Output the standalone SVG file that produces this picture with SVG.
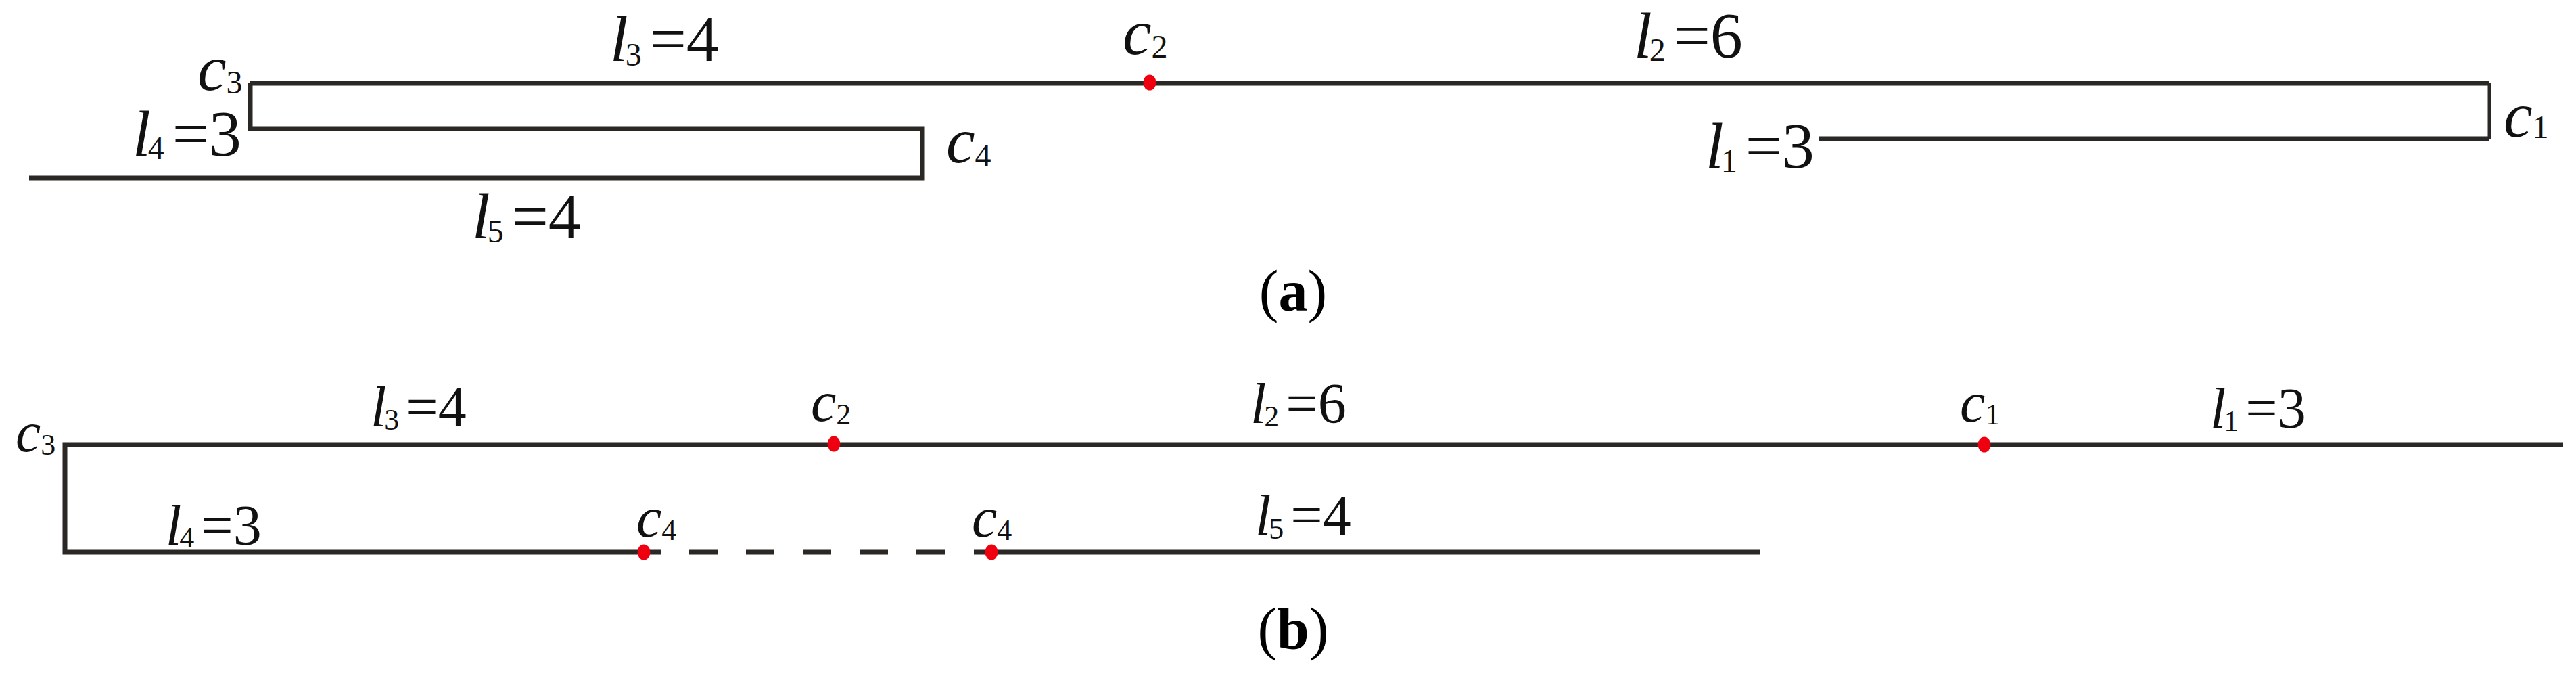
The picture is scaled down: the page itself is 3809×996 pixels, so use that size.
<svg xmlns="http://www.w3.org/2000/svg" width="3809" height="996" viewBox="0 0 3809 996">
<style>
.ln{fill:none;stroke:#2b2725;stroke-width:7;stroke-linecap:butt;stroke-linejoin:miter}
.thin{stroke-width:5}
.dash{stroke-dasharray:42 42}
.dot{fill:#ee0010}
text{font-family:"Liberation Serif","Times New Roman","DejaVu Serif",serif}
.ta{font-size:96px;fill:#111}
.tb{font-size:84px;fill:#111}
.i{font-style:italic}
.sa{font-size:48px}
.sb{font-size:44px}
.cap{font-size:86px;fill:#000}
</style>
<rect width="3809" height="996" fill="#fff"/>

<g id="connectors">
  <!-- (a) -->
  <path class="ln" d="M2690 205 H3681 M370 123 H3681 M370 123 V190 H1364 V263 H43"/>
  <line class="ln thin" x1="3681" y1="123" x2="3681" y2="205"/>
  <!-- (b) -->
  <path class="ln" d="M3790 657 H96 V816 H977"/>
  <line class="ln dash" x1="1019" y1="816" x2="1397" y2="816"/>
  <line class="ln" x1="1440" y1="816" x2="2602" y2="816"/>
</g>

<g id="points">
  <ellipse class="dot" cx="1700" cy="122" rx="9.5" ry="11.5"/>
  <ellipse class="dot" cx="1233" cy="656" rx="9.5" ry="11.5"/>
  <ellipse class="dot" cx="2934" cy="657" rx="9.5" ry="11.5"/>
  <ellipse class="dot" cx="952" cy="816" rx="9.5" ry="11.5"/>
  <ellipse class="dot" cx="1466" cy="816" rx="9.5" ry="11.5"/>
</g>

<!-- (a) labels -->
<g id="a-c3"><text class="ta" font-family="Liberation Serif, serif" x="292" y="133"><tspan class="i">c</tspan><tspan class="sa" dy="5">3</tspan></text></g>
<g id="a-l3"><text class="ta" font-family="Liberation Serif, serif" x="902" y="90"><tspan class="i">l</tspan><tspan class="sa" dx="-4" dy="7">3</tspan><tspan dx="12" dy="-7">=4</tspan></text></g>
<g id="a-c2"><text class="ta" font-family="Liberation Serif, serif" x="1660" y="80"><tspan class="i">c</tspan><tspan class="sa" dy="5">2</tspan></text></g>
<g id="a-l2"><text class="ta" font-family="Liberation Serif, serif" x="2416" y="85"><tspan class="i">l</tspan><tspan class="sa" dx="-4" dy="5">2</tspan><tspan dx="12" dy="-5">=6</tspan></text></g>
<g id="a-l4"><text class="ta" font-family="Liberation Serif, serif" x="196" y="230"><tspan class="i">l</tspan><tspan class="sa" dx="-4" dy="5">4</tspan><tspan dx="12" dy="-5">=3</tspan></text></g>
<g id="a-c4"><text class="ta" font-family="Liberation Serif, serif" x="1399" y="240"><tspan class="i">c</tspan><tspan class="sa" dy="6">4</tspan></text></g>
<g id="a-c1"><text class="ta" font-family="Liberation Serif, serif" x="3702" y="202"><tspan class="i">c</tspan><tspan class="sa" dy="2">1</tspan></text></g>
<g id="a-l1"><text class="ta" font-family="Liberation Serif, serif" x="2522" y="248"><tspan class="i">l</tspan><tspan class="sa" dx="-4" dy="6">1</tspan><tspan dx="12" dy="-6">=3</tspan></text></g>
<g id="a-l5"><text class="ta" font-family="Liberation Serif, serif" x="698" y="352"><tspan class="i">l</tspan><tspan class="sa" dx="-4" dy="6">5</tspan><tspan dx="12" dy="-6">=4</tspan></text></g>
<g id="cap-a"><text class="cap" font-family="Liberation Serif, serif" x="1912" y="459" text-anchor="middle">(<tspan font-weight="bold">a</tspan>)</text></g>

<!-- (b) labels -->
<g id="b-c3"><text class="tb" font-family="Liberation Serif, serif" x="23" y="667"><tspan class="i">c</tspan><tspan class="sb" dy="5">3</tspan></text></g>
<g id="b-l3"><text class="tb" font-family="Liberation Serif, serif" x="548" y="630"><tspan class="i">l</tspan><tspan class="sb" dx="-3" dy="5">3</tspan><tspan dx="10" dy="-5">=4</tspan></text></g>
<g id="b-c2"><text class="tb" font-family="Liberation Serif, serif" x="1199" y="622"><tspan class="i">c</tspan><tspan class="sb" dy="5">2</tspan></text></g>
<g id="b-l2"><text class="tb" font-family="Liberation Serif, serif" x="1849" y="625"><tspan class="i">l</tspan><tspan class="sb" dx="-3" dy="5">2</tspan><tspan dx="10" dy="-5">=6</tspan></text></g>
<g id="b-c1"><text class="tb" font-family="Liberation Serif, serif" x="2898" y="623"><tspan class="i">c</tspan><tspan class="sb" dy="4">1</tspan></text></g>
<g id="b-l1"><text class="tb" font-family="Liberation Serif, serif" x="3268" y="632"><tspan class="i">l</tspan><tspan class="sb" dx="-3" dy="5">1</tspan><tspan dx="10" dy="-5">=3</tspan></text></g>
<g id="b-l4"><text class="tb" font-family="Liberation Serif, serif" x="245" y="805"><tspan class="i">l</tspan><tspan class="sb" dx="-3" dy="4">4</tspan><tspan dx="10" dy="-4">=3</tspan></text></g>
<g id="b-c4a"><text class="tb" font-family="Liberation Serif, serif" x="941" y="793"><tspan class="i">c</tspan><tspan class="sb" dy="5">4</tspan></text></g>
<g id="b-c4b"><text class="tb" font-family="Liberation Serif, serif" x="1437" y="793"><tspan class="i">c</tspan><tspan class="sb" dy="5">4</tspan></text></g>
<g id="b-l5"><text class="tb" font-family="Liberation Serif, serif" x="1856" y="790"><tspan class="i">l</tspan><tspan class="sb" dx="-3" dy="6">5</tspan><tspan dx="10" dy="-6">=4</tspan></text></g>
<g id="cap-b"><text class="cap" font-family="Liberation Serif, serif" x="1912" y="958" text-anchor="middle">(<tspan font-weight="bold">b</tspan>)</text></g>
</svg>
